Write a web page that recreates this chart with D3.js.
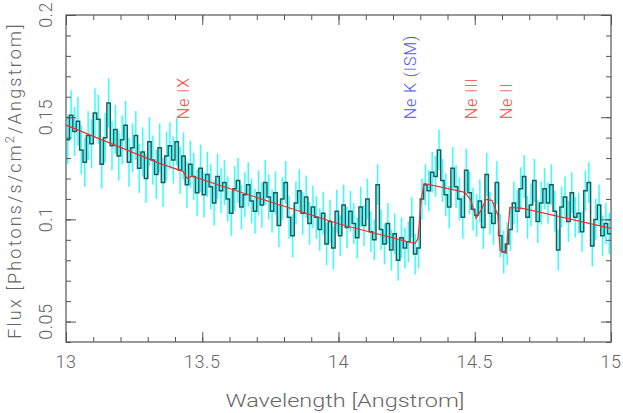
<!DOCTYPE html>
<html>
<head>
<meta charset="utf-8">
<script src="https://cdn.jsdelivr.net/npm/d3@7"></script>
<style>
  body { margin: 0; background: #fff; }
  text { font-family: Roboto, "Liberation Sans", Arial, sans-serif; font-weight: 300; }
</style>
</head>
<body>
<svg id="chart" width="623" height="413"></svg>
<script>
// ---- data ------------------------------------------------------------
const binStart = 13.0;
const binWidth = 0.0125;

// flux per 0.0125 A bin, 13.0 .. 15.0 A (photons/s/cm^2/A)
const flux = [
  0.139, 0.151, 0.143, 0.148, 0.134, 0.128, 0.141, 0.137, 0.152, 0.149,
  0.127, 0.140, 0.157, 0.136, 0.144, 0.131, 0.139, 0.146, 0.128, 0.135,
  0.141, 0.125, 0.133, 0.120, 0.138, 0.129, 0.122, 0.135, 0.118, 0.131,
  0.136, 0.129, 0.138, 0.124, 0.131, 0.117, 0.127, 0.121, 0.113, 0.125,
  0.112, 0.122, 0.116, 0.108, 0.121, 0.114, 0.118, 0.110, 0.103, 0.115,
  0.119, 0.106, 0.112, 0.117, 0.109, 0.104, 0.113, 0.107, 0.118, 0.111,
  0.104, 0.113, 0.097, 0.110, 0.118, 0.101, 0.092, 0.108, 0.114, 0.103,
  0.111, 0.098, 0.106, 0.101, 0.095, 0.103, 0.088, 0.099, 0.086, 0.104,
  0.092, 0.107, 0.096, 0.104, 0.098, 0.091, 0.106, 0.097, 0.110, 0.094,
  0.090, 0.117, 0.095, 0.088, 0.098, 0.085, 0.093, 0.080, 0.091, 0.086,
  0.089, 0.101, 0.083, 0.086, 0.110, 0.117, 0.114, 0.123, 0.121, 0.134,
  0.119, 0.112, 0.106, 0.125, 0.116, 0.110, 0.101, 0.124, 0.113, 0.105,
  0.102, 0.109, 0.096, 0.122, 0.103, 0.098, 0.118, 0.092, 0.084, 0.088,
  0.095, 0.108, 0.104, 0.115, 0.121, 0.101, 0.107, 0.119, 0.099, 0.108,
  0.115, 0.108, 0.117, 0.104, 0.085, 0.106, 0.111, 0.099, 0.113, 0.101,
  0.103, 0.094, 0.114, 0.118, 0.087, 0.100, 0.107, 0.092, 0.098, 0.093
];

// 1-sigma error, one value per group of 10 bins
const errGroups = [0.012, 0.012, 0.012, 0.0115, 0.011, 0.011, 0.0105, 0.0105,
                   0.010, 0.010, 0.010, 0.0105, 0.0105, 0.0105, 0.010, 0.010];

// model curve knots (wavelength, flux)
const modelWl = [13.0, 13.341, 13.429, 13.444, 13.462, 13.675, 14.009, 14.281, 14.292,
                 14.303, 14.314, 14.464, 14.486, 14.505, 14.523, 14.541, 14.563, 14.585,
                 14.593, 14.615, 14.622, 14.629, 14.677, 15.0];
const modelFlux = [0.1461, 0.1275, 0.1235, 0.1201, 0.1211, 0.1118, 0.0975, 0.0882, 0.0907,
                   0.1093, 0.1176, 0.1132, 0.1093, 0.1005, 0.1044, 0.1098, 0.1093, 0.1020,
                   0.0848, 0.0833, 0.0946, 0.1059, 0.1054, 0.0956];

const lineNames = ['Ne IX', 'Ne K (ISM)', 'Ne III', 'Ne II'];
const lineWl = [13.452, 14.284, 14.51, 14.635];
const lineColors = ['#ff4040', '#5050ff', '#ff4040', '#ff4040'];

const xTicks = [13, 13.5, 14, 14.5, 15];
const yTicks = [0.05, 0.1, 0.15, 0.2];

// ---- layout ----------------------------------------------------------
const width = 623, height = 413;
const margin = { top: 15, right: 12, bottom: 71, left: 66 };
const innerW = width - margin.left - margin.right;
const innerH = height - margin.top - margin.bottom;

const svg = d3.select('#chart');
const g = svg.append('g').attr('transform', `translate(${margin.left},${margin.top})`);

const x = d3.scaleLinear().domain([13, 15]).range([0, innerW]);
const y = d3.scaleLinear().domain([0.04, 0.2]).range([innerH, 0]);

const axisColor = '#555';
const textColor = '#666';

const bins = flux.map((v, i) => ({
    lo: binStart + i * binWidth,
    mid: binStart + (i + 0.5) * binWidth,
    v: v,
    err: errGroups[Math.floor(i / 10)]
}));

const plot = g.append('g');

// error bars
plot.selectAll('line.err')
    .data(bins)
    .join('line')
    .attr('class', 'err')
    .attr('x1', d => x(d.mid)).attr('x2', d => x(d.mid))
    .attr('y1', d => y(d.v - d.err)).attr('y2', d => y(d.v + d.err))
    .attr('stroke', '#33ffff')
    .attr('stroke-width', 1.5);

// histogram
const stepPts = bins.map(d => [d.lo, d.v]);
stepPts.push([binStart + flux.length * binWidth, flux[flux.length - 1]]);
plot.append('path')
    .datum(stepPts)
    .attr('fill', 'none')
    .attr('stroke', '#175f5f')
    .attr('stroke-width', 1.5)
    .attr('d', d3.line().x(d => x(d[0])).y(d => y(d[1])).curve(d3.curveStepAfter));

// model
plot.append('path')
    .datum(modelWl.map((w, i) => [w, modelFlux[i]]))
    .attr('fill', 'none')
    .attr('stroke', '#ee3030')
    .attr('stroke-width', 1.2)
    .attr('d', d3.line().x(d => x(d[0])).y(d => y(d[1])));

// line labels
g.selectAll('text.lineLabel')
    .data(lineNames)
    .join('text')
    .attr('class', 'lineLabel')
    .attr('transform', (d, i) => `translate(${x(lineWl[i])},${y(0.149)}) rotate(-90)`)
    .attr('fill', (d, i) => lineColors[i])
    .style('font-size', '16px')
    .style('letter-spacing', '0.9px')
    .text(d => d);

// ---- axes ------------------------------------------------------------
function styleAxis(sel) {
    sel.select('.domain').remove();
    sel.selectAll('line').attr('stroke', axisColor);
    sel.selectAll('text').remove();
}

const xMinor = d3.range(13, 15.0001, 0.1);
const yMinor = d3.range(0.04, 0.2001, 0.01);

g.append('g').attr('transform', `translate(0,${innerH})`)
    .call(d3.axisBottom(x).tickValues(xMinor).tickSize(-5)).call(styleAxis);
g.append('g').attr('transform', `translate(0,${innerH})`)
    .call(d3.axisBottom(x).tickValues(xTicks).tickSize(-10)).call(styleAxis);
g.append('g')
    .call(d3.axisTop(x).tickValues(xMinor).tickSize(-5)).call(styleAxis);
g.append('g')
    .call(d3.axisTop(x).tickValues(xTicks).tickSize(-10)).call(styleAxis);
g.append('g')
    .call(d3.axisLeft(y).tickValues(yMinor).tickSize(-5)).call(styleAxis);
g.append('g')
    .call(d3.axisLeft(y).tickValues(yTicks).tickSize(-10)).call(styleAxis);
g.append('g').attr('transform', `translate(${innerW},0)`)
    .call(d3.axisRight(y).tickValues(yMinor).tickSize(-5)).call(styleAxis);
g.append('g').attr('transform', `translate(${innerW},0)`)
    .call(d3.axisRight(y).tickValues(yTicks).tickSize(-10)).call(styleAxis);

g.append('rect')
    .attr('width', innerW).attr('height', innerH)
    .attr('fill', 'none').attr('stroke', axisColor).attr('stroke-width', 1.2);

// tick labels
g.selectAll('text.xtick')
    .data(xTicks)
    .join('text')
    .attr('class', 'xtick')
    .attr('x', d => x(d)).attr('y', innerH + 26)
    .attr('text-anchor', 'middle')
    .attr('fill', textColor)
    .style('font-size', '18px')
    .style('letter-spacing', '0.5px')
    .text(d => d);

g.selectAll('text.ytick')
    .data(yTicks)
    .join('text')
    .attr('class', 'ytick')
    .attr('transform', d => `translate(-14,${d === 0.2 ? -13 : y(d)}) rotate(-90)`)
    .attr('text-anchor', d => d === 0.2 ? 'end' : 'middle')
    .attr('fill', textColor)
    .style('font-size', '18px')
    .style('letter-spacing', '0.5px')
    .text(d => d);

// axis titles
svg.append('text')
    .attr('x', 345).attr('y', 407)
    .attr('text-anchor', 'middle')
    .attr('fill', textColor)
    .attr('textLength', 239).attr('lengthAdjust', 'spacingAndGlyphs')
    .style('font-size', '18px')
    .text('Wavelength [Angstrom]');

const yTitle = svg.append('text')
    .attr('transform', `translate(21,${margin.top + innerH / 2 + 2}) rotate(-90)`)
    .attr('text-anchor', 'middle')
    .attr('fill', textColor)
    .style('font-size', '18px')
    .style('letter-spacing', '2.2px');
yTitle.append('tspan').text('Flux [Photons/s/cm');
yTitle.append('tspan').attr('dy', -7).style('font-size', '13px').text('2');
yTitle.append('tspan').attr('dy', 7).text('/Angstrom]');
</script>
</body>
</html>
